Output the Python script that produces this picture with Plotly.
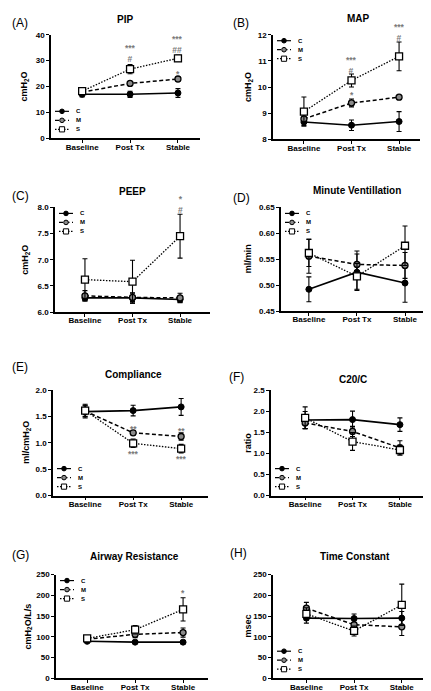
import plotly.graph_objects as go

# ---------------- data ----------------
categories = ["Baseline", "Post Tx", "Stable"]
series_names = ["C", "M", "S"]

pip_c = [17.0, 17.0, 17.5]
pip_c_err = [1.0, 1.2, 1.7]
pip_m = [17.8, 21.2, 22.9]
pip_m_err = [0.8, 0.7, 0.7]
pip_s = [18.2, 26.7, 30.9]
pip_s_err = [1.0, 1.8, 1.2]

map_c = [8.66, 8.54, 8.68]
map_c_err = [0.13, 0.2, 0.38]
map_m = [8.78, 9.39, 9.61]
map_m_err = [0.1, 0.15, 0.06]
map_s = [9.06, 10.25, 11.17]
map_s_err = [0.56, 0.25, 0.55]

peep_c = [6.27, 6.27, 6.24]
peep_c_err = [0.06, 0.1, 0.05]
peep_m = [6.31, 6.28, 6.27]
peep_m_err = [0.1, 0.08, 0.09]
peep_s = [6.62, 6.58, 7.45]
peep_s_err = [0.4, 0.41, 0.42]

mv_c = [0.492, 0.525, 0.504]
mv_c_err = [0.024, 0.035, 0.037]
mv_m = [0.556, 0.540, 0.538]
mv_m_err = [0.033, 0.026, 0.025]
mv_s = [0.562, 0.517, 0.576]
mv_s_err = [0.026, 0.025, 0.038]

comp_c = [1.59, 1.61, 1.68]
comp_c_err = [0.12, 0.1, 0.16]
comp_m = [1.60, 1.19, 1.12]
comp_m_err = [0.1, 0.04, 0.07]
comp_s = [1.61, 0.99, 0.89]
comp_s_err = [0.12, 0.08, 0.08]

c20_c = [1.79, 1.80, 1.68]
c20_c_err = [0.2, 0.2, 0.16]
c20_m = [1.72, 1.52, 1.13]
c20_m_err = [0.13, 0.12, 0.17]
c20_s = [1.84, 1.28, 1.08]
c20_s_err = [0.26, 0.21, 0.12]

raw_c = [89, 87, 87]
raw_c_err = [3, 3, 4]
raw_m = [94, 106, 110]
raw_m_err = [5, 8, 11]
raw_s = [96, 117, 166]
raw_s_err = [5, 10, 28]

tc_c = [145, 144, 145]
tc_c_err = [12, 11, 16]
tc_m = [169, 129, 124]
tc_m_err = [14, 12, 21]
tc_s = [155, 114, 177]
tc_s_err = [15, 12, 50]

panel_letters = ["(A)", "(B)", "(C)", "(D)", "(E)", "(F)", "(G)", "(H)"]
panel_titles = ["PIP", "MAP", "PEEP", "Minute Ventillation", "Compliance",
                "C20/C", "Airway Resistance", "Time Constant"]
y_titles = ["cmH<sub>2</sub>O", "cmH<sub>2</sub>O", "cmH<sub>2</sub>O", "ml/min",
            "ml/cmH<sub>2</sub>O", "ratio", "cmH<sub>2</sub>O/L/s", "msec"]
y_ranges = [[0, 40], [8, 12], [6.0, 8.0], [0.45, 0.65],
            [0, 2.0], [0, 2.5], [0, 250], [0, 250]]
y_dticks = [10, 1, 0.5, 0.05, 0.5, 0.5, 50, 50]
y_formats = ["d", "d", ".1f", ".2f", ".1f", ".1f", "d", "d"]

panel_data = [
    [(pip_c, pip_c_err), (pip_m, pip_m_err), (pip_s, pip_s_err)],
    [(map_c, map_c_err), (map_m, map_m_err), (map_s, map_s_err)],
    [(peep_c, peep_c_err), (peep_m, peep_m_err), (peep_s, peep_s_err)],
    [(mv_c, mv_c_err), (mv_m, mv_m_err), (mv_s, mv_s_err)],
    [(comp_c, comp_c_err), (comp_m, comp_m_err), (comp_s, comp_s_err)],
    [(c20_c, c20_c_err), (c20_m, c20_m_err), (c20_s, c20_s_err)],
    [(raw_c, raw_c_err), (raw_m, raw_m_err), (raw_s, raw_s_err)],
    [(tc_c, tc_c_err), (tc_m, tc_m_err), (tc_s, tc_s_err)],
]

# significance labels: (panel, series index, category index, text, side, pixel shift)
sig_labels = [
    (0, 2, 1, "***<br>#", "above", -1),
    (0, 2, 2, "***<br>##", "above", -1),
    (0, 1, 2, "*", "above", -3),
    (1, 2, 1, "***<br>#", "above", -3),
    (1, 1, 1, "*", "above", -2),
    (1, 2, 2, "***<br>#", "above", -2),
    (2, 2, 2, "*<br>#", "above", -2),
    (4, 1, 1, "**", "above", -4),
    (4, 2, 1, "***", "below", 0),
    (4, 1, 2, "**", "above", -4),
    (4, 2, 2, "***", "below", 0),
    (6, 2, 2, "*", "above", -1),
]

# ---------------- layout geometry (pixels) ----------------
W, H = 431, 691
# (x_left, x_right, y_top, y_bottom) of each plot area
boxes = [
    (43, 192, 23, 128), (265, 412, 23, 129),
    (47, 202, 198, 304), (273, 422, 198, 303),
    (45, 200, 383, 490), (263, 418, 383, 490),
    (48, 200, 570, 675), (265, 420, 570, 675),
]
x_ranges = [[-0.65, 2.46], [-0.65, 2.44], [-0.63, 2.63], [-0.58, 2.52],
            [-0.67, 2.56], [-0.72, 2.55], [-0.65, 2.52], [-0.7, 2.55]]
letter_pos = [(2, 11), (223, 11), (2, 186), (223, 188),
              (2, 360), (219, 370), (2, 550), (220, 548)]
title_pos = [(117, 8), (350, 7), (124, 182), (349, 181),
             (125, 367), (345, 372), (127, 552), (347, 552)]
ytitle_x = [17, 240, 18, 240, 19, 240, 20, 240]
legend_top = [False, True, True, True, False, False, True, False]

FONT = "Arial, Liberation Sans, Helvetica, sans-serif"

STYLES = [
    dict(line=dict(color="black", width=1.6),
         marker=dict(symbol="circle", size=6, color="black",
                     line=dict(color="black", width=1))),
    dict(line=dict(color="black", width=1.5, dash="4px,2.5px"),
         marker=dict(symbol="circle", size=6, color="#8a8a8a",
                     line=dict(color="black", width=1.3))),
    dict(line=dict(color="black", width=1.3, dash="1.5px,1.5px"),
         marker=dict(symbol="square", size=7, color="white",
                     line=dict(color="black", width=1.3))),
]

fig = go.Figure()
layout = dict(
    width=W, height=H, margin=dict(l=0, r=0, t=0, b=0),
    paper_bgcolor="white", plot_bgcolor="white", showlegend=False,
    font=dict(family=FONT, color="black"),
)
annotations = []
shapes = []

for p in range(8):
    sfx = "" if p == 0 else str(p + 1)
    xa, ya = "x" + sfx, "y" + sfx
    xl, xr, yt, yb = boxes[p]
    layout["xaxis" + sfx] = dict(
        domain=[xl / W, xr / W], anchor=ya, type="category",
        categoryorder="array", categoryarray=categories, range=x_ranges[p],
        showline=True, linecolor="black", linewidth=1.5, showgrid=False,
        zeroline=False, ticks="outside", ticklen=3, tickwidth=1.2,
        tickcolor="black", tickfont=dict(family=FONT, size=8, weight="bold"),
        ticklabelstandoff=-3, fixedrange=True,
    )
    layout["yaxis" + sfx] = dict(
        domain=[1 - yb / H, 1 - yt / H], anchor=xa, range=y_ranges[p],
        tick0=y_ranges[p][0], dtick=y_dticks[p], tickformat=y_formats[p],
        showline=True, linecolor="black", linewidth=1.5, showgrid=False,
        zeroline=False, ticks="outside", ticklen=3, tickwidth=1.2,
        tickcolor="black", tickfont=dict(family=FONT, size=8, weight="bold"),
        fixedrange=True,
    )
    for s, (vals, errs) in enumerate(panel_data[p]):
        fig.add_trace(go.Scatter(
            x=categories, y=vals, name=series_names[s], mode="lines+markers",
            xaxis=xa, yaxis=ya, line=STYLES[s]["line"], marker=STYLES[s]["marker"],
            error_y=dict(type="data", array=errs, visible=True, color="black",
                         thickness=1.1, width=2.5),
            hoverinfo="skip",
        ))
    # panel letter
    lx, ly = letter_pos[p]
    annotations.append(dict(text=panel_letters[p], xref="paper", yref="paper",
                            x=lx / W, y=1 - ly / H, xanchor="left", yanchor="middle",
                            showarrow=False, font=dict(size=12, family=FONT)))
    # title
    tx, ty = title_pos[p]
    annotations.append(dict(text="<b>" + panel_titles[p] + "</b>", xref="paper",
                            yref="paper", x=tx / W, y=1 - ty / H, xanchor="center",
                            yanchor="middle", showarrow=False,
                            font=dict(size=10, family=FONT)))
    # y title
    annotations.append(dict(text="<b>" + y_titles[p] + "</b>", xref="paper",
                            yref=ya + " domain", x=ytitle_x[p] / W, y=0.5,
                            xanchor="center", yanchor="middle", textangle=-90,
                            showarrow=False, font=dict(size=9, family=FONT)))
    # legend glyphs
    for s in range(3):
        if legend_top[p]:
            yanc, yoff = 1, -(6 + 9 * s)
        else:
            yanc, yoff = 0, 27 - 9 * s
        st = STYLES[s]
        ln = dict(color="black", width=1.2)
        if "dash" in st["line"]:
            ln["dash"] = st["line"]["dash"]
        shapes.append(dict(type="line", xref=xa + " domain", yref=ya + " domain",
                           xsizemode="pixel", ysizemode="pixel", xanchor=0,
                           yanchor=yanc, x0=4, x1=18, y0=yoff, y1=yoff, line=ln))
        r = 2.3 if s < 2 else 2.6
        mk = st["marker"]
        shapes.append(dict(type="circle" if s < 2 else "rect",
                           xref=xa + " domain", yref=ya + " domain",
                           xsizemode="pixel", ysizemode="pixel", xanchor=0,
                           yanchor=yanc, x0=11 - r, x1=11 + r, y0=yoff - r,
                           y1=yoff + r, fillcolor=mk["color"],
                           line=dict(color="black", width=1)))
        annotations.append(dict(text="<b>" + series_names[s] + "</b>",
                                xref=xa + " domain", yref=ya + " domain", x=0,
                                y=yanc, xshift=23, yshift=yoff, xanchor="left",
                                yanchor="middle", showarrow=False,
                                font=dict(size=6, family=FONT)))

# significance annotations
for (p, s, i, txt, side, shift) in sig_labels:
    sfx = "" if p == 0 else str(p + 1)
    vals, errs = panel_data[p][s]
    if side == "above":
        yv, ys, yanc = vals[i] + errs[i], shift, "bottom"
    else:
        yv, ys, yanc = vals[i] - errs[i], -shift, "top"
    annotations.append(dict(text="<b>" + txt + "</b>", xref="x" + sfx, yref="y" + sfx,
                            x=categories[i], y=yv, yshift=ys, xanchor="center",
                            yanchor=yanc, showarrow=False, borderpad=0,
                            font=dict(size=8.5, family=FONT, color="#7a7a7a")))

layout["annotations"] = annotations
layout["shapes"] = shapes
fig.update_layout(**layout)
fig.write_html("out.html")
